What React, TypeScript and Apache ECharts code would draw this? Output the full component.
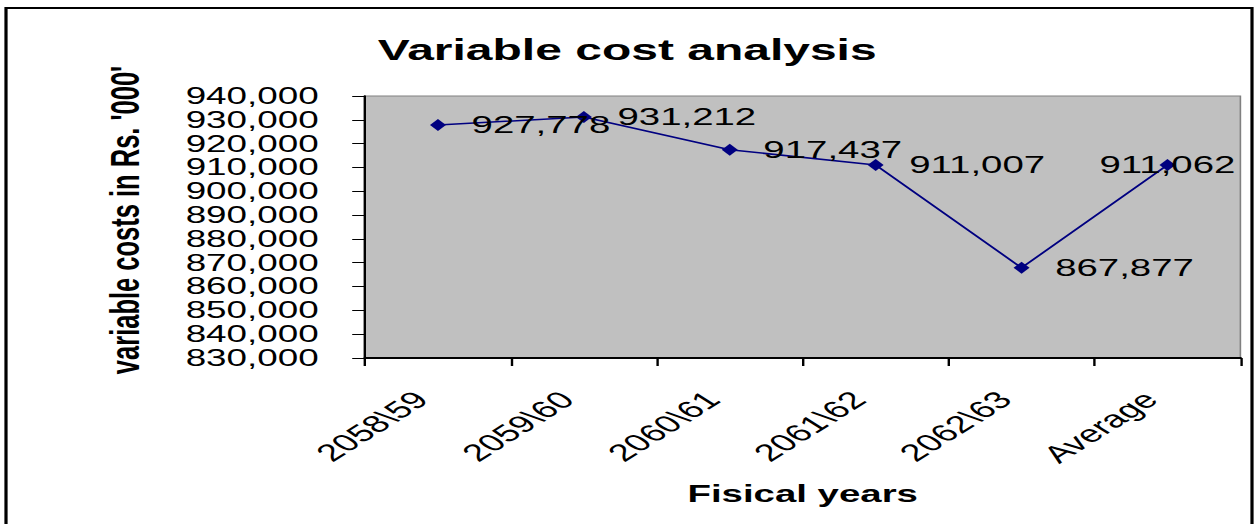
import React, { useEffect, useRef } from "react";
import * as echarts from "echarts";

const categories = ["2058\\59", "2059\\60", "2060\\61", "2061\\62", "2062\\63", "Average"];
const costs = [927778, 931212, 917437, 911007, 867877, 911062];
const yMin = 830000;
const yMax = 940000;
const yStep = 10000;
const titleText = "Variable cost analysis";
const xName = "Fisical years";
const yName = "variable costs in Rs. '000'";

// The reference picture is stretched horizontally; reproduce that with a CSS scaleX.
const STRETCH = 1.6;
const PAGE_W = 1255;
const PAGE_H = 524;
const FONT = "'Liberation Sans', Arial, sans-serif";

const fmt = (v: number) => String(Math.round(v)).replace(/\B(?=(\d{3})+(?!\d))/g, ",");

export default function App() {
  const ref = useRef<HTMLDivElement>(null);
  useEffect(() => {
    if (!ref.current) return;
    const chart = echarts.init(ref.current, undefined, { renderer: "svg" });
    const W = PAGE_W / STRETCH;
    const lastIdx = costs.length - 1;
    chart.setOption({
      animation: false,
      backgroundColor: "#ffffff",
      textStyle: { fontFamily: FONT },
      title: {
        text: titleText,
        left: "center",
        top: 30,
        textStyle: { fontFamily: FONT, fontSize: 30, fontWeight: "bold", color: "#000" },
      },
      graphic: [
        {
          type: "rect",
          shape: { x: 6 / STRETCH, y: 8, width: (1252 - 6) / STRETCH, height: 600 },
          style: { fill: "none", stroke: "#000", lineWidth: 2 },
          silent: true,
        },
      ],
      grid: {
        left: 365 / STRETCH,
        right: W - 1241 / STRETCH,
        top: 96,
        bottom: PAGE_H - 358,
        show: true,
        backgroundColor: "#c0c0c0",
        borderColor: "#808080",
        borderWidth: 1,
      },
      xAxis: {
        type: "category",
        data: categories,
        boundaryGap: true,
        name: xName,
        nameLocation: "middle",
        nameGap: 124,
        nameTextStyle: { fontFamily: FONT, fontSize: 24, fontWeight: "bold", color: "#000" },
        axisLine: { lineStyle: { color: "#000", width: 2 } },
        axisTick: { show: true, length: 8, alignWithLabel: false, lineStyle: { color: "#000", width: 1.5 } },
        axisLabel: {
          rotate: 45,
          margin: 27,
          padding: [0, 15, 0, 0],
          fontFamily: FONT,
          fontSize: 24,
          color: "#000",
          interval: 0,
        },
        splitLine: { show: false },
      },
      yAxis: {
        type: "value",
        min: yMin,
        max: yMax,
        interval: yStep,
        name: yName,
        nameLocation: "middle",
        nameGap: 137,
        nameTextStyle: {
          fontFamily: FONT,
          fontSize: 25.5,
          fontWeight: "bold",
          color: "#000",
          padding: [0, 0, 0, 14],
        },
        axisLine: { show: true, lineStyle: { color: "#000", width: 1.5 } },
        axisTick: { show: true, length: 8, lineStyle: { color: "#000", width: 1 } },
        axisLabel: {
          margin: 29,
          fontFamily: FONT,
          fontSize: 23,
          lineHeight: 22,
          color: "#000",
          formatter: (v: number) => fmt(v),
        },
        splitLine: { show: false },
      },
      series: [
        {
          type: "line",
          data: costs.map((v, i) =>
            i === lastIdx ? { value: v, label: { position: "inside" } } : v
          ),
          lineStyle: { color: "#000080", width: 1.5 },
          itemStyle: { color: "#000080" },
          symbol: "diamond",
          symbolSize: [10, 12],
          label: {
            show: true,
            position: "right",
            distance: 16,
            fontFamily: FONT,
            fontSize: 24,
            color: "#000",
            formatter: (p: any) => fmt(p.value),
          },
        },
      ],
    });
    return () => chart.dispose();
  }, []);
  return (
    <div style={{ position: "absolute", left: 0, top: 0, width: PAGE_W, height: PAGE_H, overflow: "hidden", background: "#fff" }}>
      <div
        ref={ref}
        style={{
          width: PAGE_W / STRETCH,
          height: PAGE_H,
          transform: `scaleX(${STRETCH})`,
          transformOrigin: "0 0",
        }}
      />
    </div>
  );
}
